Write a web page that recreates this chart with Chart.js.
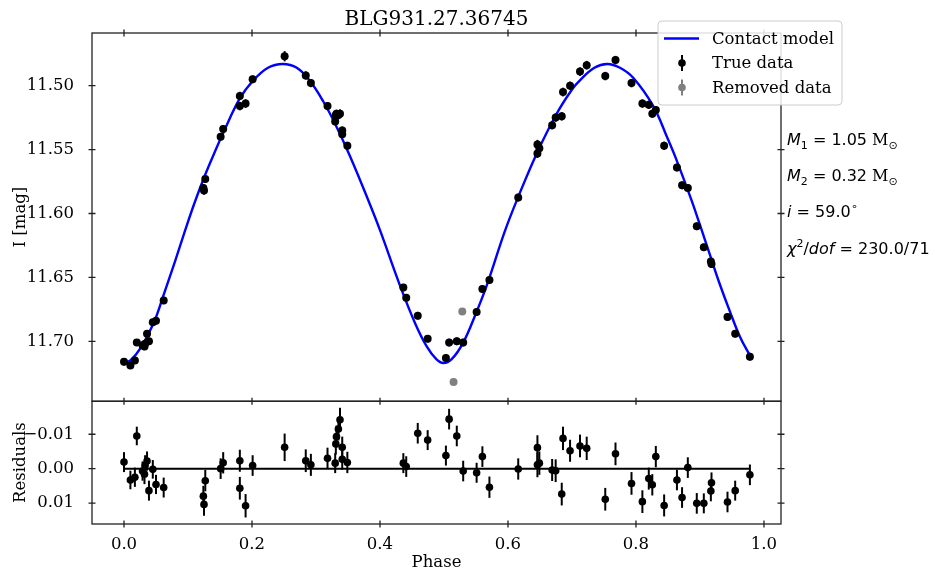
<!DOCTYPE html>
<html>
<head>
<meta charset="utf-8">
<script src="https://cdn.jsdelivr.net/npm/chart.js@4.4.0/dist/chart.umd.min.js"></script>
<style>
  html, body { margin: 0; padding: 0; background: #fff; }
  #wrap { width: 935px; height: 577px; position: relative; }
</style>
</head>
<body>
<div id="wrap"><canvas id="lightCurve"></canvas></div>
<script>
// Light curve of BLG931.27.36745 folded on phase

const TITLE = "BLG931.27.36745"

// observed points (phase, I magnitude, residual, error)
const PHASE = [0.000, 0.010, 0.017, 0.020, 0.029, 0.032, 0.033, 0.036, 0.039, 0.045, 0.050, 0.062,
  0.124, 0.125, 0.127, 0.151, 0.155, 0.181, 0.181, 0.190, 0.201, 0.251, 0.284, 0.292, 0.318,
  0.330, 0.331, 0.332, 0.335, 0.3375, 0.341, 0.341, 0.349, 0.4365, 0.441, 0.459, 0.4745,
  0.503, 0.508, 0.520, 0.530, 0.551, 0.560, 0.571, 0.616, 0.646, 0.646, 0.649, 0.669, 0.6745,
  0.684, 0.686, 0.697, 0.7125, 0.723, 0.752, 0.768, 0.793, 0.810, 0.820, 0.8255, 0.831, 0.844,
  0.864, 0.872, 0.881, 0.895, 0.906, 0.917, 0.918, 0.943, 0.955, 0.978]
const MAG = [11.716, 11.719, 11.715, 11.701, 11.703, 11.704, 11.702, 11.694, 11.700, 11.685, 11.684, 11.668,
  11.580, 11.582, 11.573, 11.540, 11.534, 11.508, 11.516, 11.514, 11.495, 11.477, 11.492, 11.498, 11.516,
  11.528, 11.523, 11.522, 11.523, 11.522, 11.535, 11.538, 11.547, 11.658, 11.666, 11.680, 11.698,
  11.713, 11.701, 11.700, 11.701, 11.677, 11.659, 11.652, 11.5875, 11.546, 11.553, 11.549, 11.531, 11.525,
  11.524, 11.505, 11.500, 11.489, 11.484, 11.4925, 11.480, 11.498, 11.514, 11.515, 11.522, 11.519, 11.547,
  11.564, 11.578, 11.580, 11.610, 11.6265, 11.6375, 11.6395, 11.681, 11.694, 11.712]
const RESID = [-0.0019, 0.0033, 0.0025, -0.0095, 0.0007, 0.0016, -0.0009, -0.0022, 0.0064, 0.0002, 0.0046, 0.0055,
  0.0080, 0.0104, 0.0035, 0.0000, -0.0017, -0.0023, 0.0057, 0.0108, -0.0009, -0.0062, -0.0023, -0.0011, -0.0030,
  -0.0016, -0.0072, -0.0093, -0.0115, -0.0142, -0.0062, -0.0027, -0.0018, -0.0016, -0.0006, -0.0103, -0.0083,
  -0.0038, -0.0144, -0.0095, 0.0007, 0.0012, -0.0035, 0.0054, 0.0001, -0.0061, -0.0011, -0.0016, 0.0004, 0.0006,
  0.0074, -0.0088, -0.0052, -0.0066, -0.0059, 0.0089, -0.0043, 0.0043, 0.0096, 0.0029, 0.0047, -0.0035, 0.0107,
  0.0033, 0.0084, -0.0003, 0.0101, 0.0101, 0.0065, 0.0041, 0.0097, 0.0064, 0.0018]
const ERR = [0.0029, 0.0027, 0.0028, 0.0027, 0.0028, 0.0029, 0.0030, 0.0028, 0.0029, 0.0027, 0.0028, 0.0029,
  0.0030, 0.0033, 0.0031, 0.0030, 0.0031, 0.0032, 0.0033, 0.0034, 0.0030, 0.0040, 0.0033, 0.0032, 0.0031,
  0.0029, 0.0031, 0.0032, 0.0033, 0.0035, 0.0031, 0.0030, 0.0031, 0.0029, 0.0030, 0.0030, 0.0029,
  0.0029, 0.0030, 0.0030, 0.0030, 0.0029, 0.0030, 0.0031, 0.0031, 0.0036, 0.0036, 0.0034, 0.0032, 0.0033,
  0.0033, 0.0034, 0.0032, 0.0033, 0.0034, 0.0033, 0.0033, 0.0033, 0.0033, 0.0032, 0.0031, 0.0031, 0.0032,
  0.0030, 0.0030, 0.0030, 0.0030, 0.0029, 0.0030, 0.0030, 0.0030, 0.0029, 0.0030]

// points rejected from the fit
const REMOVED_PHASE = [0.515, 0.5286]
const REMOVED_MAG = [11.7318, 11.6767]
const REMOVED_ERR = [0.0026, 0.0026]

// contact binary model
const MODEL_PHASE = [0.000, 0.010, 0.025, 0.046, 0.061, 0.080, 0.095, 0.110, 0.125, 0.140, 0.155, 0.181,
  0.202, 0.225, 0.248, 0.270, 0.290, 0.311, 0.330, 0.353, 0.382, 0.400, 0.431, 0.455, 0.473, 0.488,
  0.499, 0.512, 0.530, 0.550, 0.567, 0.595, 0.616, 0.645, 0.676, 0.700, 0.712, 0.735, 0.755, 0.775,
  0.796, 0.827, 0.850, 0.864, 0.887, 0.900, 0.916, 0.930, 0.947, 0.963, 0.978]
const MODEL_MAG = [11.717, 11.715, 11.706, 11.686, 11.665, 11.637, 11.614, 11.592, 11.572, 11.554, 11.537, 11.510,
  11.496, 11.486, 11.483, 11.486, 11.496, 11.512, 11.530, 11.555, 11.590, 11.613, 11.656, 11.686, 11.704, 11.714,
  11.717, 11.714, 11.701, 11.678, 11.656, 11.614, 11.587, 11.553, 11.522, 11.503, 11.496, 11.486, 11.483, 11.486,
  11.494, 11.516, 11.542, 11.559, 11.590, 11.609, 11.633, 11.654, 11.677, 11.697, 11.711]

// tick labels
const X_TICKS = [0.0, 0.2, 0.4, 0.6, 0.8, 1.0]
const MAG_TICKS = [11.50, 11.55, 11.60, 11.65, 11.70]
const RES_TICKS = [-0.01, 0.00, 0.01]

const FIT_TEXT = [
  [["M", "it"], ["1", "sub"], [" = 1.05 ", "rm"], ["M", "serif"], ["\u2299", "sub"]],
  [["M", "it"], ["2", "sub"], [" = 0.32 ", "rm"], ["M", "serif"], ["\u2299", "sub"]],
  [["i", "it"], [" = 59.0", "rm"], ["\u2218", "sup"]],
  [["\u03c7", "it"], ["2", "sup"], ["/", "rm"], ["dof", "it"], [" = 230.0/71", "rm"]],
]

const SERIF = "'DejaVu Serif', serif"
const SANS = "'DejaVu Sans', sans-serif"

function drawErrorBars(chart, dsIndex, errs, color) {
  const meta = chart.getDatasetMeta(dsIndex)
  const yScale = chart.scales[meta.yAxisID]
  const raw = chart.data.datasets[dsIndex].data
  const ctx = chart.ctx
  ctx.save()
  ctx.strokeStyle = color
  ctx.lineWidth = 2
  meta.data.forEach((pt, i) => {
    ctx.beginPath()
    ctx.moveTo(pt.x, yScale.getPixelForValue(raw[i].y - errs[i]))
    ctx.lineTo(pt.x, yScale.getPixelForValue(raw[i].y + errs[i]))
    ctx.stroke()
  })
  ctx.restore()
}

function drawMath(ctx, x, y, parts) {
  const fonts = {
    it: ["italic 16px " + SANS, 0],
    rm: ["16px " + SANS, 0],
    serif: ["16px " + SERIF, 0],
    sub: ["11px " + SANS, 4],
    sup: ["11px " + SANS, -7],
  }
  ctx.textBaseline = "alphabetic"
  ctx.textAlign = "left"
  parts.forEach(([t, kind]) => {
    const [font, dy] = fonts[kind]
    ctx.font = font
    ctx.fillText(t, x, y + dy)
    x += ctx.measureText(t).width
  })
}

const framePlugin = {
  id: "frame",
  beforeDatasetsDraw(chart) {
    drawErrorBars(chart, 0, ERR, "#000")
    drawErrorBars(chart, 1, REMOVED_ERR, "#808080")
    drawErrorBars(chart, 2, ERR, "#000")
  },
  afterDraw(chart) {
    const ctx = chart.ctx
    const xs = chart.scales.x
    const ym = chart.scales.y
    const yr = chart.scales.yr
    const left = chart.chartArea.left
    const right = chart.chartArea.right

    ctx.save()
    ctx.strokeStyle = "#222"
    ctx.lineWidth = 1.3
    ctx.strokeRect(left, ym.top, right - left, ym.bottom - ym.top)
    ctx.strokeRect(left, yr.top, right - left, yr.bottom - yr.top)

    // inout ticks on every spine
    ctx.beginPath()
    X_TICKS.forEach((v) => {
      const px = xs.getPixelForValue(v)
      ;[ym.top, ym.bottom, yr.bottom].forEach((py) => {
        ctx.moveTo(px, py - 3.5)
        ctx.lineTo(px, py + 3.5)
      })
    })
    MAG_TICKS.forEach((v) => {
      const py = ym.getPixelForValue(v)
      ctx.moveTo(left - 3.5, py); ctx.lineTo(left + 3.5, py)
      ctx.moveTo(right - 3.5, py); ctx.lineTo(right + 3.5, py)
    })
    RES_TICKS.forEach((v) => {
      const py = yr.getPixelForValue(v)
      ctx.moveTo(left - 3.5, py); ctx.lineTo(left + 3.5, py)
      ctx.moveTo(right - 3.5, py); ctx.lineTo(right + 3.5, py)
    })
    ctx.stroke()

    // title and axis labels
    ctx.fillStyle = "#000"
    ctx.textAlign = "center"
    ctx.textBaseline = "alphabetic"
    ctx.font = "20px " + SERIF
    ctx.fillText(TITLE, (left + right) / 2, 25)
    ctx.font = "16.5px " + SERIF
    ctx.textBaseline = "middle"
    ctx.fillText("Phase", (left + right) / 2, 563)
    ;[["I [mag]", ym], ["Residuals", yr]].forEach(([label, sc]) => {
      ctx.save()
      ctx.translate(21, (sc.top + sc.bottom) / 2)
      ctx.rotate(-Math.PI / 2)
      ctx.fillText(label, 0, 0)
      ctx.restore()
    })

    // fit parameters
    const rows = [139, 175, 211, 248]
    FIT_TEXT.forEach((parts, i) => drawMath(ctx, 787, rows[i] + 6, parts))

    // legend
    const lx = 658, ly = 21, lw = 184, lh = 84
    ctx.beginPath()
    ctx.roundRect(lx, ly, lw, lh, 4)
    ctx.fillStyle = "rgba(255,255,255,0.85)"
    ctx.fill()
    ctx.strokeStyle = "#cccccc"
    ctx.lineWidth = 1
    ctx.stroke()

    const items = [
      ["Contact model", "line", "#0000ff", 38.5],
      ["True data", "err", "#000", 63],
      ["Removed data", "err", "#808080", 87.5],
    ]
    items.forEach(([label, kind, color, cy]) => {
      ctx.strokeStyle = color
      ctx.fillStyle = color
      ctx.lineWidth = 2
      ctx.beginPath()
      if (kind === "line") {
        ctx.lineWidth = 2.4
        ctx.moveTo(664, cy); ctx.lineTo(699, cy); ctx.stroke()
      } else {
        ctx.moveTo(682, cy - 8); ctx.lineTo(682, cy + 8); ctx.stroke()
        ctx.beginPath(); ctx.arc(682, cy, 3.8, 0, Math.PI * 2); ctx.fill()
      }
      ctx.fillStyle = "#000"
      ctx.textAlign = "left"
      ctx.textBaseline = "middle"
      ctx.font = "16.5px " + SERIF
      ctx.fillText(label, 712, cy + 1)
    })
    ctx.restore()
  },
}

function fixedTicks(list) {
  return (scale) => { scale.ticks = list.map((v) => ({ value: v })) }
}

const tickFont = { family: SERIF, size: 16.5 }

new Chart(document.getElementById("lightCurve"), {
  type: "scatter",
  data: {
    datasets: [
      {
        label: "True data",
        data: PHASE.map((p, i) => ({ x: p, y: MAG[i] })),
        yAxisID: "y",
        backgroundColor: "#000",
        borderWidth: 0,
        pointRadius: 4,
      },
      {
        label: "Removed data",
        data: REMOVED_PHASE.map((p, i) => ({ x: p, y: REMOVED_MAG[i] })),
        yAxisID: "y",
        backgroundColor: "#808080",
        borderWidth: 0,
        pointRadius: 4,
      },
      {
        label: "Residuals",
        data: PHASE.map((p, i) => ({ x: p, y: RESID[i] })),
        yAxisID: "yr",
        backgroundColor: "#000",
        borderWidth: 0,
        pointRadius: 3.8,
      },
      {
        type: "line",
        label: "Zero",
        data: [{ x: PHASE[0], y: 0 }, { x: PHASE[PHASE.length - 1], y: 0 }],
        yAxisID: "yr",
        borderColor: "#000",
        borderWidth: 2,
        pointRadius: 0,
      },
      {
        type: "line",
        label: "Contact model",
        data: MODEL_PHASE.map((p, i) => ({ x: p, y: MODEL_MAG[i] })),
        yAxisID: "y",
        borderColor: "#0000ff",
        borderWidth: 2.4,
        pointRadius: 0,
        tension: 0.4,
      },
    ],
  },
  options: {
    responsive: true,
    maintainAspectRatio: false,
    animation: false,
    devicePixelRatio: 1,
    layout: { padding: { left: 0, right: 154, top: 33, bottom: 0 } },
    plugins: { legend: { display: false }, tooltip: { enabled: false }, title: { display: false } },
    scales: {
      x: {
        type: "linear",
        position: "bottom",
        min: -0.05,
        max: 1.0266,
        afterBuildTicks: fixedTicks(X_TICKS),
        afterFit: (s) => { s.height = 53 },
        grid: { display: false },
        border: { display: false },
        ticks: { font: tickFont, color: "#000", padding: 3, maxRotation: 0, autoSkip: false,
          callback: (v) => v.toFixed(1) },
      },
      // residual axis is defined first so the stack puts it under the light curve
      yr: {
        type: "linear",
        position: "left",
        stack: "panels",
        stackWeight: 1,
        reverse: true,
        min: -0.0196,
        max: 0.0161,
        afterBuildTicks: fixedTicks(RES_TICKS),
        afterFit: (s) => { s.width = 92 },
        grid: { display: false },
        border: { display: false },
        ticks: { font: tickFont, color: "#000", padding: 10,
          callback: (v) => (v < 0 ? "\u2212" : "") + Math.abs(v).toFixed(2) },
      },
      y: {
        type: "linear",
        position: "left",
        stack: "panels",
        stackWeight: 3,
        reverse: true,
        min: 11.4588,
        max: 11.7469,
        afterBuildTicks: fixedTicks(MAG_TICKS),
        afterFit: (s) => { s.width = 92 },
        grid: { display: false },
        border: { display: false },
        ticks: { font: tickFont, color: "#000", padding: 10, callback: (v) => v.toFixed(2) },
      },
    },
  },
  plugins: [framePlugin],
})
</script>
</body>
</html>
